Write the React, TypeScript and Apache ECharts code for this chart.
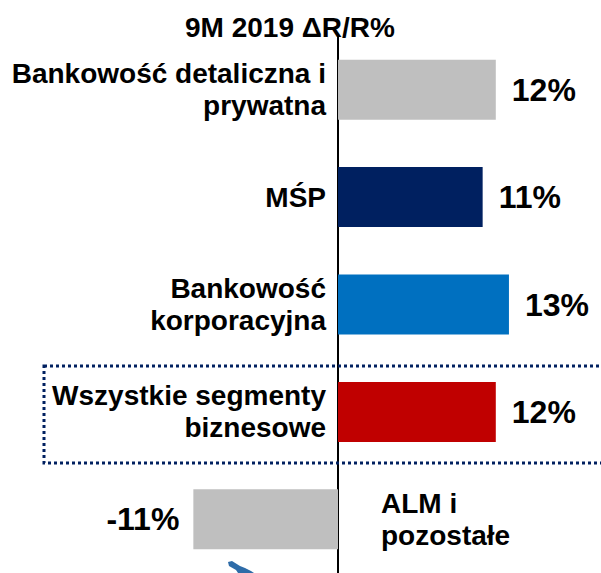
import React, { useEffect, useRef } from "react";
import * as echarts from "echarts";

const TITLE = "9M 2019 ΔR/R%";
const categories = [
  "Bankowość detaliczna i\nprywatna",
  "MŚP",
  "Bankowość\nkorporacyjna",
  "Wszystkie segmenty\nbiznesowe",
  "ALM i\npozostałe",
];
const values = [12, 11, 13, 12, -11];
const colors = ["#BFBFBF", "#002060", "#0070C0", "#C00000", "#BFBFBF"];

const FONT = "'Liberation Sans', Arial, sans-serif";

export default function App() {
  const ref = useRef<HTMLDivElement>(null);
  useEffect(() => {
    document.body.style.margin = "0";
    if (!ref.current) return;
    const chart = echarts.init(ref.current, undefined, { renderer: "svg" });
    const unit = 13.35;
    const option = {
      animation: false,
      backgroundColor: "#ffffff",
      title: {
        text: TITLE,
        left: 285,
        top: 8,
        textAlign: "center",
        textStyle: { fontFamily: FONT, fontSize: 28, fontWeight: "bold", color: "#000" },
      },
      grid: { left: 342 - 20 * unit, width: 40 * unit, top: 36, height: 541 },
      xAxis: {
        type: "value",
        min: -20,
        max: 20,
        show: false,
        splitLine: { show: false },
      },
      yAxis: {
        type: "category",
        data: categories,
        inverse: true,
        axisLine: { show: true, onZero: true, lineStyle: { color: "#000", width: 2 } },
        axisTick: { show: false },
        axisLabel: { show: false },
        splitLine: { show: false },
      },
      graphic: [
        {
          type: "rect",
          shape: { x: 44, y: 366, width: 600, height: 97 },
          style: { fill: "none", stroke: "#002060", lineWidth: 3, lineDash: [3, 3] },
          z: 10,
        },
        {
          type: "polygon",
          shape: {
            points: [
              [228, 562], [232, 561], [240, 566], [245, 568], [251, 571], [254, 573],
              [238, 573], [236, 570], [229, 566],
            ],
          },
          style: { fill: "#2E6CA8" },
        },
      ],
      series: [
        {
          type: "bar",
          barWidth: 60,
          data: values.map((v, i) => ({
            value: v,
            itemStyle: { color: colors[i] },
            label: v < 0 ? { position: "left", distance: 14 } : undefined,
          })),
          label: {
            show: true,
            position: "right",
            distance: 16,
            formatter: "{c}%",
            fontFamily: FONT,
            fontSize: 32,
            fontWeight: "bold",
            color: "#000",
          },
          silent: true,
        },
        {
          type: "scatter",
          symbolSize: 0,
          itemStyle: { opacity: 1 },
          data: categories.map((c, i) => ({
            value: [0, c],
            label:
              values[i] < 0
                ? { position: "right", distance: 43, align: "left" }
                : undefined,
          })),
          label: {
            show: true,
            position: "left",
            distance: 12,
            formatter: (p: any) => p.name || p.value[1],
            fontFamily: FONT,
            fontSize: 28,
            fontWeight: "bold",
            lineHeight: 32,
            color: "#000",
            opacity: 1,
            align: "right",
          },
          silent: true,
        },
      ],
    };
    chart.setOption(option as any);
    return () => chart.dispose();
  }, []);
  return <div ref={ref} style={{ width: 601, height: 573 }} />;
}
